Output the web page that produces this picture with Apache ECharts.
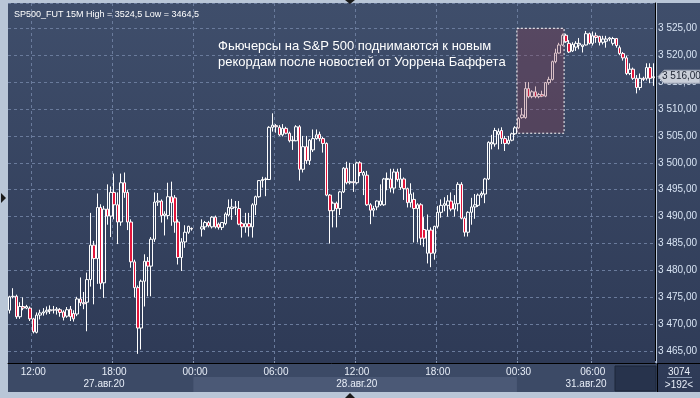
<!DOCTYPE html>
<html><head><meta charset="utf-8">
<script src="https://cdn.jsdelivr.net/npm/echarts@6/dist/echarts.min.js"></script>
<style>html,body{margin:0;padding:0;background:#b9c6d7;}#c{width:700px;height:398px;}</style>
</head><body><div id="c"></div>
<script>
// ---- data (15-minute bars) ----
const opens = [3472.6,3475.1,3475.2,3471.4,3473.3,3473.0,3473.0,3471.0,3468.5,3471.7,3472.1,3472.3,3472.5,3472.7,3472.6,3472.7,3472.3,3471.5,3472.8,3472.0,
3471.9,3474.7,3474.0,3474.1,3478.3,3484.7,3482.2,3491.7,3477.7,3491.4,3490.1,3494.5,3492.2,3489.0,3496.3,3494.5,3489.0,3481.6,3476.8,3469.3,
3478.0,3481.7,3480.8,3485.8,3492.7,3492.9,3490.2,3490.2,3493.7,3493.5,3489.0,3482.4,3485.3,3487.1,3487.8,null,null,3487.7,3488.1,3488.9,
3488.1,3489.9,3488.6,3488.0,3488.7,3490.3,3491.5,3491.8,3491.5,3488.7,3488.1,3488.7,3488.1,3492.2,3493.7,3496.7,3496.9,3496.9,3506.6,3506.9,
3506.6,3505.2,3506.4,3505.5,3504.1,3504.1,3506.7,3498.8,3503.0,3500.4,3502.4,3504.5,3505.3,3504.5,3503.6,3494.0,3491.1,3492.5,3491.5,3494.6,
3499.0,3496.3,3496.5,3496.3,3500.0,3497.7,3497.7,3492.2,3491.2,3491.8,3492.2,3492.2,3496.9,3497.0,3495.3,3498.3,3495.4,3497.0,3495.2,3492.6,
3493.2,3491.5,3492.2,3487.6,3483.2,3487.5,3483.2,3488.2,3490.8,3492.1,3492.1,3492.9,3491.4,3492.4,3496.0,3489.7,3487.1,3490.8,3491.8,3492.1,
3494.0,3494.2,3497.0,3503.5,3503.5,3505.3,3506.0,3504.5,3503.6,3504.2,3505.4,3506.5,3508.4,3508.4,3513.8,3512.3,3513.2,3512.3,3512.7,3512.4,
3514.9,3515.5,3518.8,3520.4,3521.9,3523.7,3522.2,3520.8,3521.5,3521.9,3521.6,3521.9,3524.0,3522.2,3523.6,3523.5,3522.4,3522.6,3523.0,3522.2,
3523.1,3521.4,3520.3,3519.5,3516.6,3517.4,3515.7,3514.0,3515.7,3515.7,3517.7,3515.8];
const closes = [3475.1,3475.2,3471.4,3473.3,3473.0,3473.3,3471.0,3468.6,3471.7,3472.1,3472.3,3472.6,3472.7,3472.6,3472.8,3472.2,3471.3,3472.7,3471.4,3471.0,
3474.7,3474.0,3473.8,3478.3,3484.7,3482.2,3491.7,3477.6,3491.4,3490.1,3494.5,3492.2,3489.0,3496.3,3494.5,3489.0,3481.6,3476.8,3469.3,3478.0,
3481.7,3480.8,3485.8,3492.7,3492.9,3490.2,3490.5,3493.7,3492.6,3489.0,3482.4,3485.3,3487.1,3488.2,3487.7,null,null,3488.1,3488.9,3488.3,
3489.9,3488.1,3488.0,3488.9,3490.5,3491.7,3491.8,3491.7,3488.6,3488.1,3488.7,3488.1,3492.2,3493.7,3496.7,3496.9,3497.0,3506.6,3507.0,3506.7,
3505.2,3506.4,3505.5,3504.1,3504.2,3506.7,3498.8,3503.0,3500.4,3504.2,3504.5,3505.2,3504.5,3503.6,3494.0,3491.1,3492.5,3491.5,3494.6,3499.0,
3496.3,3496.5,3496.3,3500.0,3498.2,3498.2,3492.2,3491.2,3491.5,3492.9,3492.9,3497.0,3497.1,3495.3,3498.3,3496.9,3497.0,3495.2,3492.6,3494.2,
3491.5,3492.2,3486.0,3486.0,3487.5,3483.2,3488.2,3490.8,3492.1,3492.4,3492.9,3491.4,3492.4,3496.0,3489.7,3487.1,3490.8,3491.8,3492.2,3494.0,
3494.3,3497.0,3503.8,3503.8,3506.0,3505.8,3504.5,3503.6,3504.2,3505.4,3506.5,3508.2,3508.9,3513.8,3512.3,3513.2,3512.3,3512.7,3512.4,3514.9,
3515.5,3518.8,3520.4,3521.9,3523.7,3522.5,3520.6,3522.0,3522.2,3522.2,3521.9,3524.0,3522.2,3523.6,3523.3,3522.4,3523.0,3523.0,3523.2,3523.1,
3521.8,3520.3,3519.5,3516.6,3517.4,3515.7,3514.0,3515.7,3515.5,3517.7,3515.7,3516.0];
const lows = [3472.0,3474.8,3471.0,3471.0,3472.6,3472.8,3470.6,3468.3,3468.3,3470.9,3471.6,3471.8,3471.9,3472.0,3471.8,3471.4,3470.7,3471.2,3470.6,3470.5,
3471.5,3473.4,3472.8,3468.7,3477.0,3473.7,3477.5,3476.5,3474.9,3488.5,3486.2,3489.5,3484.9,3488.3,3493.5,3487.5,3480.5,3475.0,3464.5,3465.3,
3473.3,3475.2,3475.2,3485.3,3492.0,3488.9,3486.5,3489.5,3488.3,3487.0,3481.1,3479.9,3484.2,3486.8,3487.4,null,null,3486.3,3487.5,3488.0,
3487.8,3487.8,3487.6,3487.5,3488.4,3490.0,3489.4,3490.3,3488.4,3486.1,3487.0,3486.3,3486.1,3490.3,3493.5,3495.4,3493.8,3496.8,3505.8,3505.6,
3505.0,3504.9,3505.3,3503.8,3502.4,3504.0,3496.7,3498.2,3499.8,3499.6,3502.0,3504.3,3504.0,3501.9,3493.8,3485.0,3488.0,3488.0,3490.3,3494.4,
3496.0,3496.0,3494.6,3496.0,3497.5,3494.0,3492.0,3488.6,3490.0,3491.2,3492.0,3492.0,3494.9,3494.5,3494.3,3496.5,3495.0,3493.1,3491.7,3491.7,
3485.2,3485.2,3484.7,3484.4,3481.3,3480.6,3482.0,3487.8,3489.8,3491.0,3490.0,3491.0,3490.0,3491.0,3489.5,3486.3,3486.3,3488.5,3489.6,3491.8,
3493.5,3492.5,3496.8,3502.5,3503.0,3502.5,3503.5,3502.2,3503.4,3504.0,3505.2,3506.3,3508.2,3508.2,3512.0,3512.0,3512.0,3512.0,3512.2,3512.2,
3514.5,3515.3,3518.5,3520.3,3521.7,3522.3,3520.4,3520.6,3520.8,3521.1,3520.5,3521.8,3522.0,3521.8,3522.3,3521.8,3522.0,3521.4,3522.6,3521.8,
3521.4,3520.0,3519.0,3516.3,3516.3,3515.4,3512.9,3513.5,3515.2,3515.3,3514.8,3514.3];
const highs = [3475.3,3476.7,3475.5,3474.1,3475.0,3473.6,3473.3,3471.2,3472.2,3472.7,3473.0,3473.3,3473.5,3473.4,3473.2,3473.0,3472.6,3473.2,3473.4,3472.6,
3475.1,3478.7,3476.0,3479.6,3490.7,3485.5,3494.3,3492.3,3492.0,3496.0,3495.6,3498.0,3494.5,3498.0,3498.2,3495.0,3489.5,3482.0,3477.2,3478.3,
3483.0,3482.5,3486.2,3494.5,3494.4,3493.2,3491.0,3496.3,3496.5,3494.0,3489.5,3486.0,3488.4,3488.3,3488.0,null,null,3489.5,3489.2,3489.2,
3490.1,3490.2,3488.9,3489.0,3490.8,3493.2,3493.3,3492.9,3492.9,3489.0,3490.7,3490.7,3492.5,3493.9,3496.8,3497.4,3497.3,3506.8,3509.2,3507.2,
3507.0,3507.2,3506.7,3505.8,3505.0,3507.0,3507.0,3505.0,3505.0,3504.4,3506.2,3506.2,3505.8,3504.8,3503.8,3494.2,3492.8,3492.8,3494.8,3499.2,
3500.2,3500.0,3499.8,3500.2,3500.3,3498.5,3498.5,3492.5,3492.0,3493.0,3496.0,3497.2,3498.2,3498.9,3498.9,3498.9,3499.0,3497.3,3495.4,3496.2,
3494.5,3492.5,3492.5,3489.9,3490.4,3488.0,3488.3,3492.0,3493.2,3493.6,3494.0,3494.5,3494.0,3496.4,3496.4,3490.0,3491.0,3493.5,3494.2,3494.3,
3494.7,3497.2,3504.0,3505.2,3506.5,3506.4,3506.6,3505.0,3505.0,3505.6,3506.8,3508.5,3510.2,3515.0,3515.0,3513.5,3514.2,3513.0,3513.4,3515.0,
3516.0,3519.0,3521.2,3522.3,3524.0,3524.0,3522.8,3522.4,3522.6,3523.2,3521.9,3524.5,3524.2,3524.4,3524.2,3523.6,3523.6,3523.6,3523.4,3523.4,
3523.2,3521.8,3520.6,3519.9,3518.5,3517.7,3516.3,3516.6,3516.0,3518.5,3518.5,3518.5];

// x-axis tick labels (bar indices) and day labels
const timeTickIdx = [7, 31, 55, 79, 103, 127, 151, 173];
const dateLabelIdx = [28, 103, 171];
const dateLabels = ['27.авг.20', '28.авг.20', '31.авг.20'];
const dayShadeFrom = 55, dayShadeTo = 151;
// highlighted news window (bar indices, price range)
const boxFromIdx = 151, boxToIdx = 165, boxTop = 3525.0, boxBottom = 3505.5;
const titleText = 'SP500_FUT 15M High = 3524,5 Low = 3464,5';
const noteLines = ['Фьючерсы на S&P 500 поднимаются к новым', 'рекордам после новостей от Уоррена Баффета'];
const lastPrice = 3516.0;
const barsTotal = '3074', barsVisible = '>192<';

// categories: 27 Aug 10:15 .. 28 Aug 23:45, then 31 Aug 00:30 ..
const categories = [];
for (let i = 0; i < opens.length; i++) {
  const d = i < 151 ? new Date(Date.UTC(2020, 7, 27, 10, 15) + i * 900000)
                    : new Date(Date.UTC(2020, 7, 31, 0, 30) + (i - 151) * 900000);
  const p = n => String(n).padStart(2, '0');
  categories.push(p(d.getUTCDate()) + '.' + p(d.getUTCMonth() + 1) + ' ' + p(d.getUTCHours()) + ':' + p(d.getUTCMinutes()));
}
const ohlc = opens.map((o, i) => o == null ? '-' : [o, closes[i], lows[i], highs[i]]);

const fmtPrice = v => { const t = Math.floor(v / 1000); const r = (v - t * 1000).toFixed(2).replace('.', ','); return t + ' ' + r.padStart(6, '0'); };

const chart = echarts.init(document.getElementById('c'), null, { renderer: 'canvas' });
const FONT = 'Liberation Sans, Arial, sans-serif';
const bgGrad = () => new echarts.graphic.LinearGradient(0, 0, 0, 1, [{ offset: 0, color: '#3f4e6b' }, { offset: 1, color: '#2e3a56' }]);
const option = {
  animation: false,
  backgroundColor: '#b9c6d7',
  title: { text: titleText, left: 9, top: 5, textStyle: { color: '#ffffff', fontSize: 9, fontWeight: 'normal', fontFamily: FONT } },
  grid: { left: 8, right: 43, top: 3, bottom: 35, show: true, borderWidth: 0, backgroundColor: bgGrad() },
  xAxis: [{
    type: 'category', data: categories, boundaryGap: true,
    axisLine: { show: true, lineStyle: { color: '#000000', width: 1 } },
    axisTick: { show: true, inside: true, length: 2, interval: (i) => timeTickIdx.includes(i), lineStyle: { color: '#8594b0' } },
    axisLabel: { interval: (i) => timeTickIdx.includes(i), formatter: v => v.slice(6), color: '#e8eef8', fontSize: 10, fontFamily: FONT, margin: 4 },
    splitLine: { show: true, interval: (i) => timeTickIdx.includes(i), lineStyle: { color: '#6a7b9c', type: [3, 3], width: 1 } }
  }, {
    type: 'category', data: categories, boundaryGap: true, position: 'bottom', offset: 13,
    axisLine: { show: false }, axisTick: { show: false }, splitLine: { show: false },
    axisLabel: { interval: (i) => dateLabelIdx.includes(i), formatter: (v, i) => dateLabels[dateLabelIdx.indexOf(i)] || '', color: '#e8eef8', fontSize: 10, fontFamily: FONT, margin: 3 }
  }],
  yAxis: {
    type: 'value', position: 'right', scale: true, min: 3462.8, max: 3529.7, splitNumber: 13, minInterval: 5, maxInterval: 5,
    axisLine: { show: true, lineStyle: { color: '#000000', width: 1 } },
    axisTick: { show: false },
    axisLabel: { formatter: fmtPrice, color: '#d7e3f3', fontSize: 10, fontFamily: FONT, margin: 3, showMinLabel: false, showMaxLabel: false },
    splitLine: { show: true, lineStyle: { color: '#6a7b9c', type: [3, 3], width: 1 } }
  },
  series: [{
    type: 'candlestick', data: ohlc, barWidth: 3,
    itemStyle: { color: 'rgba(0,0,0,0)', color0: '#e3163c', borderColor: '#ffffff', borderColor0: '#ffffff', borderWidth: 1 }
  }]
};
chart.setOption(option);

const band = chart.convertToPixel({ xAxisIndex: 0 }, categories[1]) - chart.convertToPixel({ xAxisIndex: 0 }, categories[0]);
const xLeft = i => chart.convertToPixel({ xAxisIndex: 0 }, categories[i]) - band / 2;
const yAt = v => chart.convertToPixel({ yAxisIndex: 0 }, v);
const yp = yAt(lastPrice);
const bx0 = xLeft(boxFromIdx), bx1 = xLeft(boxToIdx), by0 = yAt(boxTop), by1 = yAt(boxBottom);

chart.setOption({
  graphic: [
    { type: 'rect', z: -5, shape: { x: 657, y: 3, width: 43, height: 389 }, style: { fill: bgGrad() } },
    { type: 'rect', z: -5, shape: { x: 8, y: 363, width: 649, height: 29 }, style: { fill: '#3c4a66' } },
    { type: 'rect', z: -4, shape: { x: xLeft(dayShadeFrom), y: 377, width: xLeft(dayShadeTo) - xLeft(dayShadeFrom), height: 15 }, style: { fill: '#4b5976' } },
    { type: 'rect', z: -4, shape: { x: 615, y: 366, width: 41, height: 25 }, style: { fill: '#27334c', stroke: '#1d2739', lineWidth: 1 } },
    { type: 'line', z: 5, shape: { x1: 657, y1: 363.5, x2: 700, y2: 363.5 }, style: { stroke: '#000', lineWidth: 1 } },
    { type: 'line', z: 5, shape: { x1: 657.5, y1: 363, x2: 657.5, y2: 392 }, style: { stroke: '#000', lineWidth: 1 } },
    { type: 'line', z: 5, shape: { x1: 667, y1: 377.5, x2: 692, y2: 377.5 }, style: { stroke: '#8796b0', lineWidth: 1 } },
    { type: 'text', z: 5, style: { x: 679, y: 372, text: barsTotal, fill: '#e8eef8', font: '10px ' + FONT, textAlign: 'center', textVerticalAlign: 'middle' } },
    { type: 'text', z: 5, style: { x: 679, y: 385, text: barsVisible, fill: '#e8eef8', font: '10px ' + FONT, textAlign: 'center', textVerticalAlign: 'middle' } },
    { type: 'polygon', z: 5, shape: { points: [[350, 4], [345, 0], [355, 0]] }, style: { fill: '#1a1a1a' } },
    { type: 'polygon', z: 5, shape: { points: [[350, 393], [345, 398], [355, 398]] }, style: { fill: '#1a1a1a' } },
    { type: 'polygon', z: 5, shape: { points: [[6, 198], [1, 193], [1, 203]] }, style: { fill: '#1a1a1a' } },
    { type: 'polygon', z: 20, shape: { points: [[658, yp], [664, yp - 6.5], [700, yp - 6.5], [700, yp + 6.5], [664, yp + 6.5]] }, style: { fill: '#c9ced8', stroke: '#9aa3b3', lineWidth: 1 } },
    { type: 'text', z: 21, style: { x: 662, y: yp, text: fmtPrice(lastPrice), fill: '#1d2433', font: '10px ' + FONT, textVerticalAlign: 'middle' } },
    { type: 'rect', z: 30, shape: { x: bx0, y: by0, width: bx1 - bx0, height: by1 - by0 }, style: { fill: 'rgba(140,62,80,0.32)', stroke: '#ffffff', lineWidth: 1, lineDash: [2, 2] } },
    { type: 'text', z: 30, style: { x: 218, y: 46, text: noteLines[0], fill: '#ffffff', font: '13px ' + FONT, textVerticalAlign: 'middle' } },
    { type: 'text', z: 30, style: { x: 218, y: 62, text: noteLines[1], fill: '#ffffff', font: '13px ' + FONT, textVerticalAlign: 'middle' } }
  ]
});
</script></body></html>
